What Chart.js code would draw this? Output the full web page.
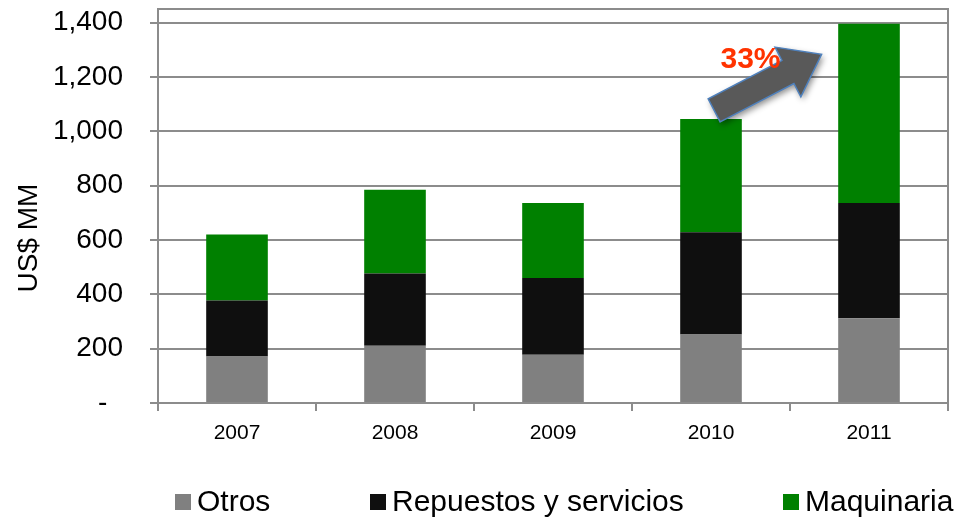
<!DOCTYPE html>
<html lang="es">
<head>
  <meta charset="UTF-8">
  <title>US$ MM por año</title>
  <script src="https://cdn.jsdelivr.net/npm/chart.js"></script>
  <style>
    html, body { margin: 0; padding: 0; background: #fff; }
    #wrap { position: relative; width: 963px; height: 517px; }
    #legend { position: absolute; left: 0; top: 483px; width: 963px; height: 35px;
              font: 30px 'Liberation Sans', Arial, sans-serif; color: #000; }
    #legend .item { position: absolute; top: 0; white-space: nowrap; line-height: 35px; }
    #legend .box { display: inline-block; width: 16px; height: 16px; margin-right: 6px; vertical-align: 1px; }
  </style>
</head>
<body>
  <div id="wrap">
    <canvas id="chart" width="963" height="517"></canvas>
    <div id="legend"></div>
  </div>
  <script>
    // datos
    const years = ['2007', '2008', '2009', '2010', '2011'];
    const otros = [171, 211, 178, 252, 312];
    const repuestos = [206, 266, 282, 376, 424];
    const maquinaria = [243, 308, 276, 417, 660];
    const yTicks = [0, 200, 400, 600, 800, 1000, 1200, 1400];

    // flecha de crecimiento (en coordenadas de datos: índice de categoría, valor)
    const arrowFrom = [3.02, 1077];
    const arrowTo = [3.7, 1283];
    const growthLabel = '33%';
    const growthAt = [3.25, 1262];

    const font = 'Liberation Sans, Arial, sans-serif';
    const legendLeft = [175, 370, 783];

    const frame = {
      id: 'frame',
      beforeDatasetsDraw(chart) {
        const { ctx, chartArea: a } = chart;
        ctx.save();
        ctx.strokeStyle = '#8c8c8c';
        ctx.lineWidth = 2;
        ctx.strokeRect(a.left, a.top, a.right - a.left, a.bottom - a.top);
        // título del eje y
        ctx.translate(29, 238);
        ctx.rotate(-Math.PI / 2);
        ctx.fillStyle = '#000';
        ctx.font = '28px ' + font;
        ctx.textAlign = 'center';
        ctx.textBaseline = 'middle';
        ctx.fillText('US$ MM', 0, 0);
        ctx.restore();
      }
    };

    const arrow = {
      id: 'arrow',
      afterDatasetsDraw(chart) {
        const { ctx, scales: { x, y } } = chart;
        const tx = x.getPixelForValue(arrowFrom[0]), ty = y.getPixelForValue(arrowFrom[1]);
        const px = x.getPixelForValue(arrowTo[0]), py = y.getPixelForValue(arrowTo[1]);
        const len = Math.hypot(px - tx, py - ty);
        const ux = (px - tx) / len, uy = (py - ty) / len;
        const nx = -uy, ny = ux;
        const w = 13, h = 28, L = 38;
        const hx = px - ux * L, hy = py - uy * L;
        ctx.save();
        ctx.beginPath();
        ctx.moveTo(tx + nx * w, ty + ny * w);
        ctx.lineTo(hx + nx * w, hy + ny * w);
        ctx.lineTo(hx + nx * h, hy + ny * h);
        ctx.lineTo(px, py);
        ctx.lineTo(hx - nx * h, hy - ny * h);
        ctx.lineTo(hx - nx * w, hy - ny * w);
        ctx.lineTo(tx - nx * w, ty - ny * w);
        ctx.closePath();
        ctx.shadowColor = 'rgba(0,0,0,0.45)';
        ctx.shadowBlur = 6;
        ctx.shadowOffsetX = 2;
        ctx.shadowOffsetY = 3;
        ctx.fillStyle = '#595959';
        ctx.fill();
        ctx.shadowColor = 'transparent';
        ctx.strokeStyle = '#4f81bd';
        ctx.lineWidth = 1.5;
        ctx.stroke();
        ctx.fillStyle = '#ff3300';
        ctx.font = 'bold 30px ' + font;
        ctx.textAlign = 'center';
        ctx.textBaseline = 'middle';
        ctx.fillText(growthLabel, x.getPixelForValue(growthAt[0]), y.getPixelForValue(growthAt[1]));
        ctx.restore();
      }
    };

    const chart = new Chart(document.getElementById('chart'), {
      type: 'bar',
      data: {
        labels: years,
        datasets: [
          { label: 'Otros', data: otros, backgroundColor: '#808080' },
          { label: 'Repuestos y servicios', data: repuestos, backgroundColor: '#0f0f0f' },
          { label: 'Maquinaria', data: maquinaria, backgroundColor: '#008000' }
        ]
      },
      options: {
        responsive: false,
        animation: false,
        layout: { padding: { top: 9, right: 15, left: 0, bottom: 54 } },
        datasets: { bar: { barPercentage: 0.39, categoryPercentage: 1 } },
        scales: {
          x: {
            stacked: true,
            grid: { display: true, drawOnChartArea: false, color: '#8c8c8c', lineWidth: 2, tickLength: 8, offset: true },
            border: { color: '#8c8c8c', width: 2 },
            ticks: { color: '#000', font: { family: font, size: 21 }, padding: 10 },
            afterFit(s) { s.height = 60; s.paddingLeft = 0; s.paddingRight = 0; }
          },
          y: {
            stacked: true,
            min: 0,
            max: 1450,
            afterBuildTicks(s) { s.ticks = yTicks.map(v => ({ value: v })); },
            grid: { color: '#8c8c8c', lineWidth: 2, tickLength: 8 },
            border: { color: '#8c8c8c', width: 2 },
            ticks: {
              color: '#000',
              font: { family: font, size: 28 },
              padding: 27,
              callback: v => v === 0 ? '-  ' : v.toLocaleString('en-US')
            },
            afterFit(s) { s.width = 158; s.paddingTop = 0; s.paddingBottom = 0; }
          }
        },
        plugins: {
          legend: { display: false },
          tooltip: { enabled: false }
        }
      },
      plugins: [frame, arrow]
    });

    // leyenda
    const legend = document.getElementById('legend');
    chart.data.datasets.forEach((ds, i) => {
      const item = document.createElement('span');
      item.className = 'item';
      item.style.left = legendLeft[i] + 'px';
      item.innerHTML = `<span class="box" style="background:${ds.backgroundColor}"></span>${ds.label}`;
      legend.appendChild(item);
    });
  </script>
</body>
</html>
